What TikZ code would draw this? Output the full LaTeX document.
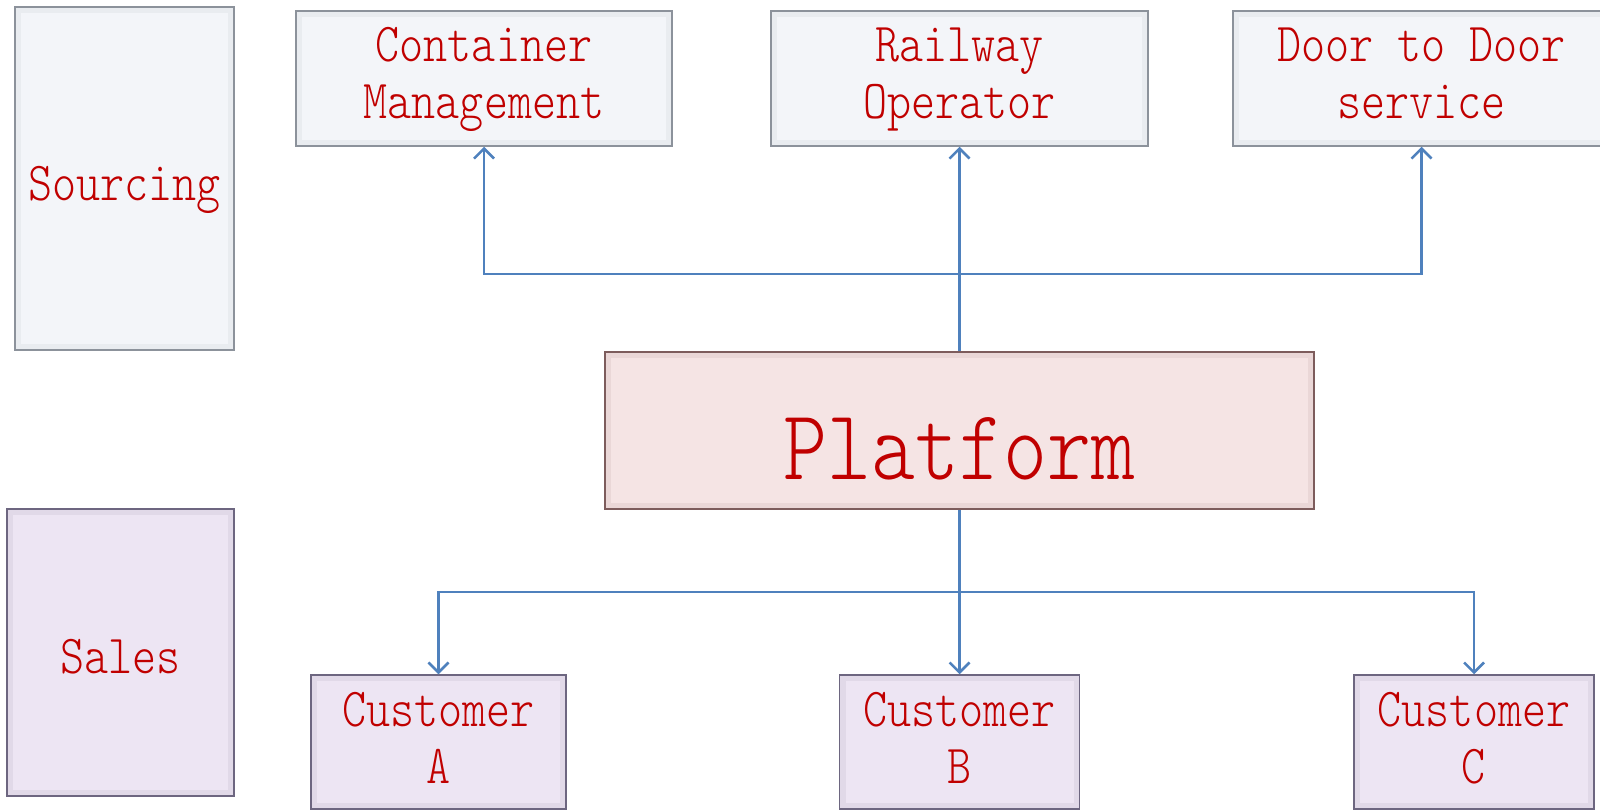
\documentclass[tikz,border=0pt]{standalone}
\usepackage{fontspec}
\setmonofont{Latin Modern Mono Light}
\usepackage{tikz}
\usetikzlibrary{positioning, arrows.meta}
\definecolor{srcfill}{HTML}{F3F5F9}
\definecolor{srcline}{HTML}{8C929B}
\definecolor{salefill}{HTML}{EDE5F3}
\definecolor{saleline}{HTML}{6D6680}
\definecolor{platfill}{HTML}{F5E4E4}
\definecolor{platline}{HTML}{7D5C5C}
\definecolor{boxred}{HTML}{C00000}
\definecolor{linkblue}{HTML}{4F81BD}
% text set taller than wide, last baseline #1 below the box centre
\newcommand\tallbox[2]{\raisebox{-#1}[0pt][0pt]{\scalebox{1}[1.2]{\begin{tabular}[b]{@{}c@{}}#2\end{tabular}}}}
\tikzset{
  bevel/.style={path picture={\draw[line width=12bp, draw=#1, opacity=.09]
    (path picture bounding box.south west) rectangle (path picture bounding box.north east);}},
  box/.style={draw, line width=1.5bp, inner sep=0pt, align=center, text=boxred,
    font=\ttfamily\fontsize{46}{47.5}\selectfont},
  srcbox/.style={box, draw=srcline, fill=srcfill, bevel=srcline},
  salebox/.style={box, draw=saleline, fill=salefill, bevel=saleline},
  platbox/.style={box, draw=platline, fill=platfill, bevel=platline,
    font=\ttfamily\fontsize{84}{90}\selectfont},
  link/.style={draw=linkblue, line width=2.5bp},
}

\begin{document}
\begin{tikzpicture}[x=1bp,y=-1bp,>={Straight Barb[length=10bp,width=20bp]}]
\clip (0,0) rectangle (1600,810);
%%
  % Node: sourcing
  \node[srcbox, minimum width=219bp, minimum height=343bp] (sourcing) at (124.5,178.5) {\tallbox{21.5bp}{Sourcing}};
  % Node: sales
  \node[salebox, minimum width=227bp, minimum height=287bp] (sales) at (120.5,652.5) {\tallbox{20.5bp}{Sales}};
  % Node: container
  \node[srcbox, minimum width=376bp, minimum height=135bp] (container) at (484,78.5) {\tallbox{39.5bp}{Container\\Management}};
  % Node: railway
  \node[srcbox, minimum width=377bp, minimum height=135bp] (railway) at (959.5,78.5) {\tallbox{39.5bp}{Railway\\Operator}};
  % Node: door
  \node[srcbox, minimum width=377bp, minimum height=135bp] (door) at (1421.5,78.5) {\tallbox{39.5bp}{Door to Door\\service}};
  % Node: platform
  \node[platbox, minimum width=709bp, minimum height=157bp] (platform) at (959.5,430.5) {\tallbox{48.5bp}{Platform}};
  % Node: custA
  \node[salebox, minimum width=255bp, minimum height=134bp] (custA) at (438.5,742) {\tallbox{41bp}{Customer\\A}};
  % Node: custB
  \node[salebox, minimum width=240bp, minimum height=134bp] (custB) at (959.5,742) {\tallbox{41bp}{Customer\\B}};
  % Node: custC
  \node[salebox, minimum width=240bp, minimum height=134bp] (custC) at (1474,742) {\tallbox{41bp}{Customer\\C}};
%
  \coordinate (topy) at (0,274);
  \coordinate (boty) at (0,592);
  \coordinate (tophub) at (platform.north |- topy);
  \coordinate (bothub) at (platform.south |- boty);
  % Edge: platform -- railway
  \draw[link,->] (platform.north) -- (railway.south);
  % Edge: platform -- container
  \draw[link,->] (tophub) -| (container.south);
  % Edge: platform -- door
  \draw[link,->] (tophub) -| (door.south);
  % Edge: platform -- custB
  \draw[link,->] (platform.south) -- (custB.north);
  % Edge: platform -- custA
  \draw[link,->] (bothub) -| (custA.north);
  % Edge: platform -- custC
  \draw[link,->] (bothub) -| (custC.north);
%
\end{tikzpicture}
\end{document}
